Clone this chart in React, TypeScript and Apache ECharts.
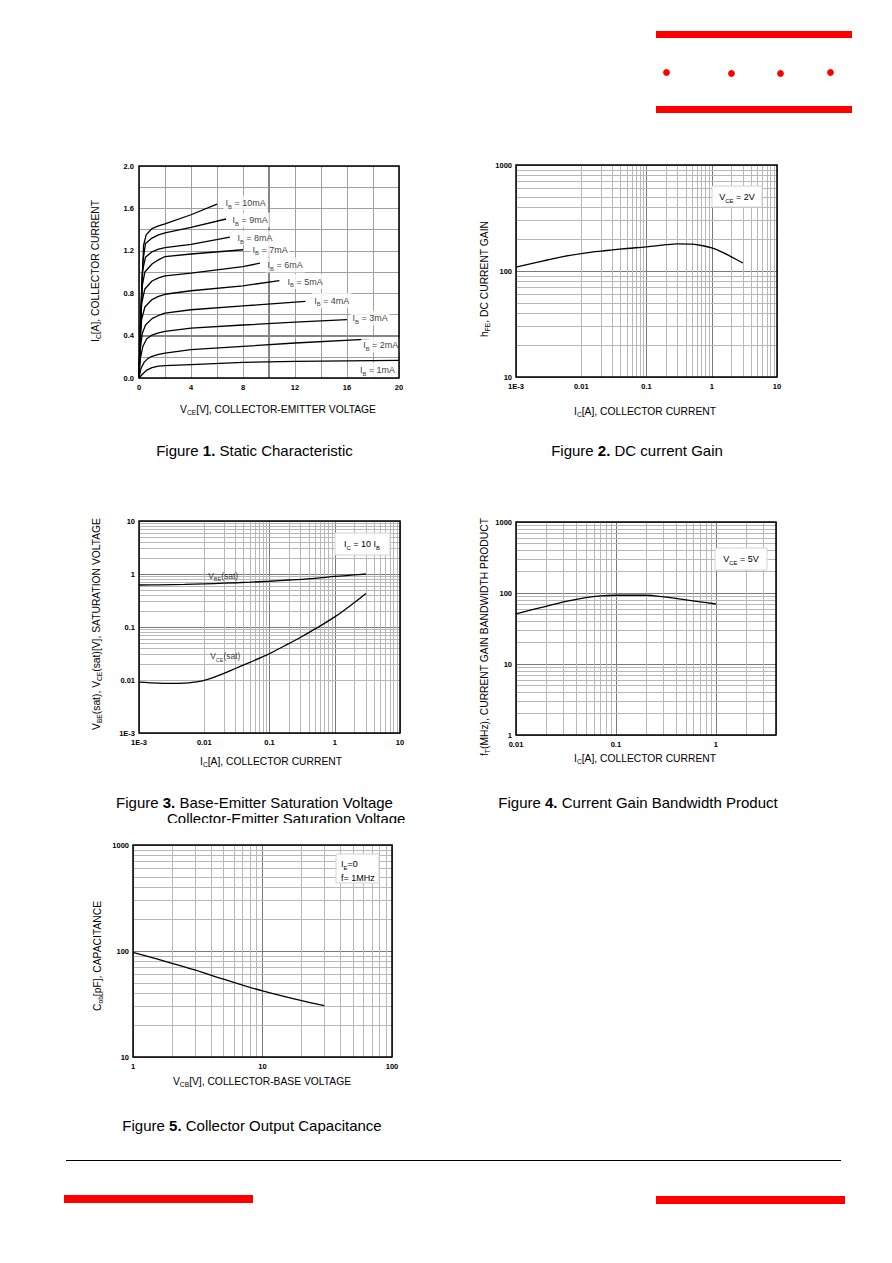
import React, { useEffect, useRef } from 'react';
import * as echarts from 'echarts';

const FONT = '"Liberation Sans", Arial, Helvetica, sans-serif';
const MAJOR = '#7a7a7a';
const MINOR = '#b8b8b8';
const LIN = '#a0a0a0';
const RED = '#ff0000';

// ---------------- Figure 1 : Static Characteristic ----------------
const fig1XTickLabels = ['0', '4', '8', '12', '16', '20'];
const fig1YTickLabels = ['0.0', '0.4', '0.8', '1.2', '1.6', '2.0'];
const ibNames = ['1mA', '2mA', '3mA', '4mA', '5mA', '6mA', '7mA', '8mA', '9mA', '10mA'];
const ib1mA = [[0, 0], [0.3, 0.04], [0.6, 0.075], [1, 0.098], [1.5, 0.112], [2, 0.117], [4, 0.127], [8, 0.147], [12, 0.156], [16, 0.161], [20, 0.166]];
const ib2mA = [[0, 0], [0.15, 0.09], [0.4, 0.15], [0.7, 0.185], [1, 0.205], [1.5, 0.222], [2, 0.235], [4, 0.267], [8, 0.298], [12, 0.33], [17.7, 0.366]];
const ib3mA = [[0, 0], [0.1, 0.18], [0.3, 0.3], [0.6, 0.37], [1, 0.405], [1.5, 0.425], [2, 0.44], [4, 0.47], [8, 0.5], [12, 0.527], [16, 0.55]];
const ib4mA = [[0, 0], [0.08, 0.25], [0.25, 0.42], [0.5, 0.5], [1, 0.56], [1.5, 0.59], [2, 0.612], [4, 0.644], [8, 0.68], [12.8, 0.722]];
const ib5mA = [[0, 0], [0.07, 0.3], [0.2, 0.55], [0.45, 0.67], [1, 0.74], [1.5, 0.77], [2, 0.79], [4, 0.823], [8, 0.87], [10.8, 0.918]];
const ib6mA = [[0, 0], [0.07, 0.35], [0.2, 0.7], [0.45, 0.84], [1, 0.915], [1.5, 0.945], [2, 0.964], [4, 0.99], [8, 1.05], [9.3, 1.083]];
const ib7mA = [[0, 0], [0.08, 0.4], [0.22, 0.85], [0.45, 1.0], [1, 1.075], [1.5, 1.115], [2, 1.146], [4, 1.17], [8, 1.21]];
const ib8mA = [[0, 0], [0.1, 0.45], [0.25, 1.0], [0.5, 1.14], [1, 1.19], [1.5, 1.215], [2, 1.23], [4, 1.26], [7, 1.33]];
const ib9mA = [[0, 0], [0.12, 0.5], [0.3, 1.1], [0.5, 1.27], [1, 1.32], [1.5, 1.35], [2, 1.37], [4, 1.42], [6.7, 1.5]];
const ib10mA = [[0, 0], [0.15, 0.55], [0.35, 1.25], [0.55, 1.35], [1, 1.41], [1.5, 1.435], [2, 1.454], [4, 1.54], [6, 1.64]];
const ibCurves = [ib1mA, ib2mA, ib3mA, ib4mA, ib5mA, ib6mA, ib7mA, ib8mA, ib9mA, ib10mA];
// label anchors (left edge, vertical centre) in data units
const ibLabelAnchors = [[16.8, 0.075], [17.05, 0.311], [16.23, 0.563], [13.28, 0.73], [11.23, 0.91], [9.69, 1.066], [8.54, 1.21], [7.38, 1.32], [7.0, 1.49], [6.46, 1.65]];
const fig1EmphasisX = [10];
const fig1EmphasisY = [0.4];

// ---------------- Figure 2 : DC current gain ----------------
const fig2XTickValues = [0.001, 0.01, 0.1, 1, 10];
const fig2XTickLabels = ['1E-3', '0.01', '0.1', '1', '10'];
const fig2YTickValues = [10, 100, 1000];
const fig2YTickLabels = ['10', '100', '1000'];
const hfeData = [[0.001, 109], [0.002, 120], [0.003, 127], [0.005, 136], [0.01, 146], [0.02, 154], [0.03, 158], [0.05, 163], [0.1, 169], [0.2, 177], [0.3, 180], [0.5, 179], [0.7, 174], [1, 165], [1.5, 149], [2, 136], [3, 119]];

// ---------------- Figure 3 : saturation voltages ----------------
const fig3XTickValues = [0.001, 0.01, 0.1, 1, 10];
const fig3XTickLabels = ['1E-3', '0.01', '0.1', '1', '10'];
const fig3YTickValues = [0.001, 0.01, 0.1, 1, 10];
const fig3YTickLabels = ['1E-3', '0.01', '0.1', '1', '10'];
const vbeSat = [[0.001, 0.62], [0.002, 0.625], [0.005, 0.635], [0.01, 0.65], [0.02, 0.67], [0.05, 0.7], [0.1, 0.73], [0.2, 0.77], [0.5, 0.83], [1, 0.9], [2, 0.96], [3, 1.0]];
const vceSat = [[0.001, 0.0091], [0.002, 0.0087], [0.003, 0.0086], [0.005, 0.0087], [0.007, 0.0091], [0.01, 0.0098], [0.02, 0.0133], [0.03, 0.0165], [0.05, 0.0215], [0.1, 0.0315], [0.2, 0.049], [0.3, 0.064], [0.5, 0.092], [1, 0.155], [2, 0.29], [3, 0.43]];
const fig3LabelAnchors = [[0.0195, 0.91], [0.021, 0.028]];

// ---------------- Figure 4 : fT ----------------
const fig4XTickValues = [0.01, 0.1, 1];
const fig4XTickLabels = ['0.01', '0.1', '1'];
const fig4YTickValues = [1, 10, 100, 1000];
const fig4YTickLabels = ['1', '10', '100', '1000'];
const ftData = [[0.01, 51], [0.02, 65], [0.03, 75], [0.05, 86], [0.07, 91], [0.1, 93], [0.2, 93], [0.3, 88], [0.5, 80], [0.7, 75], [1, 70]];

// ---------------- Figure 5 : Cob ----------------
const fig5XTickValues = [1, 10, 100];
const fig5XTickLabels = ['1', '10', '100'];
const fig5YTickValues = [10, 100, 1000];
const fig5YTickLabels = ['10', '100', '1000'];
const cobData = [[1, 97], [2, 76.6], [3, 66.2], [5, 54.2], [10, 42], [20, 34], [30, 30.5]];

// ---------------- layout ----------------
const G = [
  { left: 139, top: 166, width: 260, height: 212 },
  { left: 516, top: 165, width: 261, height: 212 },
  { left: 139, top: 521, width: 261, height: 212 },
  { left: 516, top: 522, width: 260, height: 213 },
  { left: 133, top: 845, width: 259, height: 212 },
];

function logMinor(min: number, max: number): number[] {
  const out: number[] = [];
  const e0 = Math.floor(Math.log10(min) + 1e-9);
  const e1 = Math.ceil(Math.log10(max) - 1e-9);
  for (let e = e0; e <= e1; e++) {
    for (let k = 2; k <= 9; k++) {
      const v = parseFloat((k * Math.pow(10, e)).toPrecision(6));
      if (v > min * 1.0001 && v < max * 0.9999) out.push(v);
    }
  }
  return out;
}

const tickLabel = {
  color: '#000',
  fontSize: 7.5,
  fontWeight: 'bold',
  fontFamily: FONT,
  showMinLabel: true,
  showMaxLabel: true,
};

function logAxis(gridIndex: number, min: number, max: number, values: number[], labels: string[], margin: number) {
  return {
    gridIndex,
    type: 'log',
    logBase: 10,
    min,
    max,
    axisLine: { show: false },
    axisTick: { show: false },
    splitLine: { show: true, lineStyle: { color: MAJOR, width: 1 } },
    axisLabel: {
      ...tickLabel,
      margin,
      formatter: (v: number) => {
        const i = values.findIndex((t) => Math.abs(Math.log10(t) - Math.log10(v)) < 1e-6);
        return i >= 0 ? labels[i] : '';
      },
    },
  };
}

function minorMarkLine(xs: number[], ys: number[], extra: any[] = []) {
  return {
    silent: true,
    z: 1,
    symbol: ['none', 'none'],
    label: { show: false },
    emphasis: { disabled: true },
    animation: false,
    lineStyle: { color: MINOR, width: 1, type: 'solid' },
    data: [...xs.map((v) => ({ xAxis: v })), ...ys.map((v) => ({ yAxis: v })), ...extra],
  };
}

// rich styles for graphic (zrender) texts
function rich(size: number) {
  const lh = size + 4;
  return {
    n: { fontSize: size, fontFamily: FONT, fill: '#000', lineHeight: lh, verticalAlign: 'middle' },
    s: { fontSize: Math.round(size * 0.65 * 10) / 10, fontFamily: FONT, fill: '#000', lineHeight: lh / 2, verticalAlign: 'bottom' },
    b: { fontSize: size, fontFamily: FONT, fontWeight: 'bold', fill: '#000', lineHeight: lh, verticalAlign: 'middle' },
  };
}
// rich styles for echarts series labels
function labelRich(size: number) {
  const lh = size + 4;
  return {
    n: { fontSize: size, fontFamily: FONT, color: '#000', lineHeight: lh, verticalAlign: 'middle' },
    s: { fontSize: Math.round(size * 0.65 * 10) / 10, fontFamily: FONT, color: '#000', lineHeight: lh / 2, verticalAlign: 'bottom' },
  };
}

function txt(x: number, y: number, text: string, size: number, opts: { rot?: number; align?: string } = {}) {
  return {
    type: 'text',
    x,
    y,
    z: 110,
    rotation: opts.rot || 0,
    silent: true,
    style: {
      text,
      rich: rich(size),
      fontSize: size,
      fontFamily: FONT,
      fill: '#000',
      align: opts.align || 'center',
      verticalAlign: 'middle',
    },
  };
}

function box(x: number, y: number, w: number, h: number) {
  return { type: 'rect', z: 105, silent: true, shape: { x, y, width: w, height: h }, style: { fill: '#fff', stroke: '#d4d4d4', lineWidth: 1 } };
}

function buildOption(): any {
  const curveStyle = { color: '#000', width: 1.3 };
  const grid = G.map((g) => ({ ...g, show: true, backgroundColor: '#fff', borderWidth: 0, containLabel: false }));

  const xAxis = [
    {
      gridIndex: 0,
      type: 'value',
      min: 0,
      max: 20,
      interval: 4,
      axisLine: { show: false },
      axisTick: { show: false },
      splitLine: { show: true, lineStyle: { color: LIN, width: 1 } },
      minorTick: { show: false, splitNumber: 2 },
      minorSplitLine: { show: true, lineStyle: { color: LIN, width: 1 } },
      axisLabel: { ...tickLabel, margin: 5, formatter: (v: number) => fig1XTickLabels.find((l) => Number(l) === v) ?? '' },
    },
    logAxis(1, 0.001, 10, fig2XTickValues, fig2XTickLabels, 5),
    logAxis(2, 0.001, 10, fig3XTickValues, fig3XTickLabels, 5),
    logAxis(3, 0.01, 4, fig4XTickValues, fig4XTickLabels, 5),
    logAxis(4, 1, 100, fig5XTickValues, fig5XTickLabels, 5),
  ];
  const yAxis = [
    {
      gridIndex: 0,
      type: 'value',
      min: 0,
      max: 2,
      interval: 0.4,
      axisLine: { show: false },
      axisTick: { show: false },
      splitLine: { show: true, lineStyle: { color: LIN, width: 1 } },
      minorTick: { show: false, splitNumber: 2 },
      minorSplitLine: { show: true, lineStyle: { color: LIN, width: 1 } },
      axisLabel: { ...tickLabel, margin: 5, formatter: (v: number) => fig1YTickLabels.find((l) => Math.abs(Number(l) - v) < 1e-6) ?? '' },
    },
    logAxis(1, 10, 1000, fig2YTickValues, fig2YTickLabels, 4),
    logAxis(2, 0.001, 10, fig3YTickValues, fig3YTickLabels, 4),
    logAxis(3, 1, 1000, fig4YTickValues, fig4YTickLabels, 4),
    logAxis(4, 10, 1000, fig5YTickValues, fig5YTickLabels, 4),
  ];

  const series: any[] = [];
  const smoothLine = { showSymbol: false, symbol: 'none', smooth: 0.35, z: 5, lineStyle: curveStyle };

  // Figure 1 curves
  ibCurves.forEach((curve, i) => {
    const s: any = {
      type: 'line',
      name: 'IB=' + ibNames[i],
      xAxisIndex: 0,
      yAxisIndex: 0,
      data: curve,
      showSymbol: false,
      symbol: 'none',
      z: 5,
      lineStyle: curveStyle,
    };
    if (i === 0) {
      s.markLine = {
        ...minorMarkLine([], []),
        lineStyle: { color: '#868686', width: 2, type: 'solid' },
        data: [...fig1EmphasisX.map((v) => ({ xAxis: v })), ...fig1EmphasisY.map((v) => ({ yAxis: v }))],
      };
    }
    series.push(s);
  });
  series.push({
    type: 'scatter',
    name: 'IB labels',
    xAxisIndex: 0,
    yAxisIndex: 0,
    z: 8,
    symbolSize: 1,
    itemStyle: { color: 'rgba(0,0,0,0)' },
    data: ibLabelAnchors.map((p, i) => ({ value: p, name: ibNames[i] })),
    label: {
      show: true,
      position: 'right',
      distance: 0,
      color: '#000',
      backgroundColor: '#fff',
      padding: [1, 2, 1, 2],
      formatter: (p: any) => '{n|I}{s|B}{n| = ' + ibNames[p.dataIndex] + '}',
      rich: labelRich(9),
    },
  });

  // Figure 2
  series.push({
    type: 'line',
    name: 'hFE',
    xAxisIndex: 1,
    yAxisIndex: 1,
    data: hfeData,
    ...smoothLine,
    markLine: minorMarkLine(logMinor(0.001, 10), logMinor(10, 1000)),
  });

  // Figure 3
  series.push({
    type: 'line',
    name: 'VBE(sat)',
    xAxisIndex: 2,
    yAxisIndex: 2,
    data: vbeSat,
    ...smoothLine,
    markLine: minorMarkLine(logMinor(0.001, 10), logMinor(0.001, 10)),
  });
  series.push({
    type: 'line',
    name: 'VCE(sat)',
    xAxisIndex: 2,
    yAxisIndex: 2,
    data: vceSat,
    ...smoothLine,
  });
  series.push({
    type: 'scatter',
    name: 'sat labels',
    xAxisIndex: 2,
    yAxisIndex: 2,
    z: 8,
    symbolSize: 1,
    itemStyle: { color: 'rgba(0,0,0,0)' },
    data: fig3LabelAnchors.map((p) => ({ value: p })),
    label: {
      show: true,
      position: 'inside',
      color: '#000',
      formatter: (p: any) => (p.dataIndex === 0 ? '{n|V}{s|BE}{n|(sat)}' : '{n|V}{s|CE}{n|(sat)}'),
      rich: labelRich(8.5),
    },
  });

  // Figure 4
  series.push({
    type: 'line',
    name: 'fT',
    xAxisIndex: 3,
    yAxisIndex: 3,
    data: ftData,
    ...smoothLine,
    markLine: minorMarkLine(logMinor(0.01, 4), logMinor(1, 1000)),
  });

  // Figure 5
  series.push({
    type: 'line',
    name: 'Cob',
    xAxisIndex: 4,
    yAxisIndex: 4,
    data: cobData,
    ...smoothLine,
    markLine: minorMarkLine(logMinor(1, 100), logMinor(10, 1000)),
  });

  const R90 = Math.PI / 2;
  const elements: any[] = [];

  // header decoration
  elements.push({ type: 'rect', z: 100, shape: { x: 656, y: 31, width: 196, height: 7 }, style: { fill: RED } });
  elements.push({ type: 'rect', z: 100, shape: { x: 656, y: 106, width: 196, height: 7 }, style: { fill: RED } });
  [[666.5, 72.5], [731.5, 73.5], [780.5, 73.5], [830.5, 72.5]].forEach(([cx, cy]) =>
    elements.push({ type: 'circle', z: 100, shape: { cx, cy, r: 3.4 }, style: { fill: RED } })
  );
  // footer decoration
  elements.push({ type: 'line', z: 100, shape: { x1: 66, y1: 1160.5, x2: 841, y2: 1160.5 }, style: { stroke: '#000', lineWidth: 1.2 } });
  elements.push({ type: 'rect', z: 100, shape: { x: 64, y: 1195, width: 189, height: 8 }, style: { fill: RED } });
  elements.push({ type: 'rect', z: 100, shape: { x: 656, y: 1196, width: 189, height: 8 }, style: { fill: RED } });

  // plot frames
  G.forEach((g) =>
    elements.push({ type: 'rect', z: 100, silent: true, shape: { x: g.left, y: g.top, width: g.width, height: g.height }, style: { fill: 'none', stroke: '#000', lineWidth: 1.5 } })
  );

  // axis names
  const AN = 10.3;
  elements.push(txt(278, 409, '{n|V}{s|CE}{n|[V], COLLECTOR-EMITTER VOLTAGE}', AN));
  elements.push(txt(95, 271, '{n|I}{s|C}{n|[A], COLLECTOR CURRENT}', AN, { rot: R90 }));
  elements.push(txt(645, 411, '{n|I}{s|C}{n|[A], COLLECTOR CURRENT}', AN));
  elements.push(txt(484, 279, '{n|h}{s|FE}{n|, DC CURRENT GAIN}', AN, { rot: R90 }));
  elements.push(txt(271, 761, '{n|I}{s|C}{n|[A], COLLECTOR CURRENT}', AN));
  elements.push(txt(96, 624, '{n|V}{s|BE}{n|(sat), V}{s|CE}{n|(sat)[V], SATURATION VOLTAGE}', AN, { rot: R90 }));
  elements.push(txt(645, 758, '{n|I}{s|C}{n|[A], COLLECTOR CURRENT}', AN));
  elements.push(txt(484, 637, '{n|f}{s|T}{n|(MHz), CURRENT GAIN BANDWIDTH PRODUCT}', AN, { rot: R90 }));
  elements.push(txt(262, 1081, '{n|V}{s|CB}{n|[V], COLLECTOR-BASE VOLTAGE}', AN));
  elements.push(txt(97, 956, '{n|C}{s|ob}{n|[pF], CAPACITANCE}', AN, { rot: R90 }));

  // annotation boxes
  elements.push(box(712, 186, 50, 21));
  elements.push(txt(737, 197, '{n|V}{s|CE}{n| = 2V}', 9));
  elements.push(box(335, 533, 55, 22));
  elements.push(txt(362, 544, '{n|I}{s|C}{n| = 10 I}{s|B}', 9));
  elements.push(box(715, 548, 52, 22));
  elements.push(txt(741, 559, '{n|V}{s|CE}{n| = 5V}', 9));
  elements.push(box(336, 854, 43, 29));
  elements.push(txt(341, 864, '{n|I}{s|E}{n|=0}', 9, { align: 'left' }));
  elements.push(txt(341, 878, '{n|f= 1MHz}', 9, { align: 'left' }));

  // captions
  const CF = 15;
  elements.push(txt(254.5, 450, '{n|Figure }{b|1.}{n| Static Characteristic}', CF));
  elements.push(txt(637, 450, '{n|Figure }{b|2.}{n| DC current Gain}', CF));
  elements.push(txt(254.5, 802, '{n|Figure }{b|3.}{n| Base-Emitter Saturation Voltage}', CF));
  elements.push(txt(167, 818, '{n|Collector-Emitter Saturation Voltage}', CF, { align: 'left' }));
  elements.push(txt(638, 802, '{n|Figure }{b|4.}{n| Current Gain Bandwidth Product}', CF));
  elements.push(txt(252, 1125, '{n|Figure }{b|5.}{n| Collector Output Capacitance}', CF));
  // the scanned figure was cropped through the second caption line
  elements.push({ type: 'rect', z: 120, silent: true, shape: { x: 150, y: 823, width: 280, height: 9 }, style: { fill: '#fff' } });

  return {
    animation: false,
    backgroundColor: '#fff',
    textStyle: { fontFamily: FONT },
    grid,
    xAxis,
    yAxis,
    series,
    graphic: { elements },
  };
}

export default function App() {
  const ref = useRef<HTMLDivElement>(null);
  useEffect(() => {
    if (!ref.current) return;
    const chart = echarts.init(ref.current, undefined, { renderer: 'svg', width: 892, height: 1263 });
    chart.setOption(buildOption());
    return () => chart.dispose();
  }, []);
  return (
    <div
      ref={ref}
      style={{ position: 'absolute', left: 0, top: 0, width: 892, height: 1263, background: '#fff' }}
    />
  );
}
